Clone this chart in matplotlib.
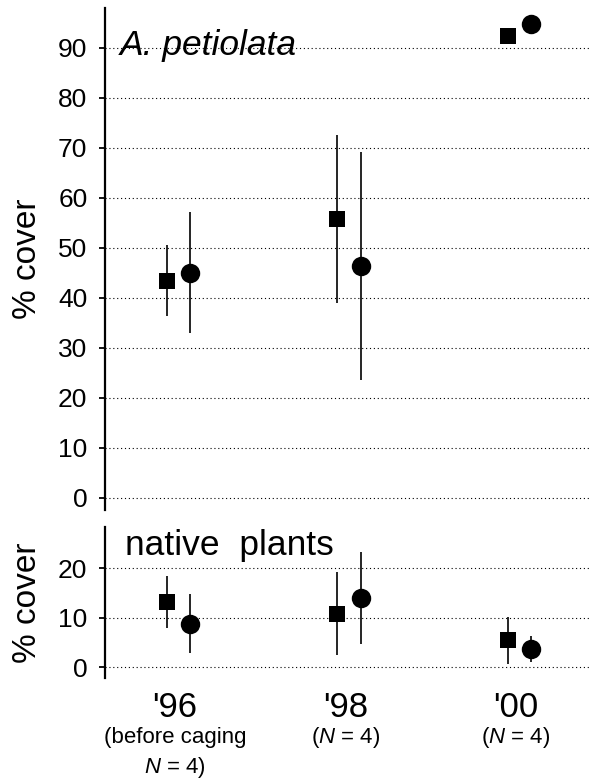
import numpy as np
import matplotlib
matplotlib.use("Agg")
import matplotlib.pyplot as plt

plt.rcParams['font.family'] = ['Liberation Sans', 'DejaVu Sans']
plt.rcParams['mathtext.fontset'] = 'custom'
plt.rcParams['mathtext.rm'] = 'Liberation Sans'
plt.rcParams['mathtext.it'] = 'Liberation Sans:italic'

# -----------------------------
# Data
# -----------------------------
years = ["'96", "'98", "'00"]
year_notes = ["(before caging\n", "($\\mathit{N}$ = 4)", "($\\mathit{N}$ = 4)"]

# A. petiolata cover
ap_sq_mean = [43.4, 55.8, 92.3]
ap_sq_se = [7.1, 16.8, 0.0]
ap_ci_mean = [45.0, 46.4, 94.8]
ap_ci_se = [12.1, 22.8, 0.0]

# native plants cover
np_sq_mean = [13.1, 10.8, 5.4]
np_sq_se = [5.3, 8.4, 4.7]
np_ci_mean = [8.8, 14.0, 3.6]
np_ci_se = [5.9, 9.3, 2.6]

x = np.arange(len(years))
off = 0.068

# -----------------------------
# Figure
# -----------------------------
fig = plt.figure(figsize=(5.89, 7.81), dpi=100)
ax1 = fig.add_axes([0.179, 0.347, 0.821, 0.643])
ax2 = fig.add_axes([0.179, 0.132, 0.821, 0.193])

def style(ax, ticks):
    for s in ['top', 'right', 'bottom']:
        ax.spines[s].set_visible(False)
    ax.spines['left'].set_linewidth(1.6)
    ax.set_yticks(ticks)
    ax.tick_params(axis='y', direction='out', length=4, width=1.3,
                   labelsize=19, pad=9)
    ax.tick_params(axis='x', length=0, labelbottom=False)
    for t in ticks:
        ax.axhline(t, color='black', lw=0.8, ls=(0, (1, 2.5)), zorder=0)
    ax.set_xlim(-0.428, 2.408)

def draw(ax, sq_m, sq_e, ci_m, ci_e):
    ax.errorbar(x - off, sq_m, yerr=sq_e, fmt='s', color='black', ms=11.8,
                mew=0, elinewidth=1.2, capsize=0, zorder=3)
    ax.errorbar(x + off, ci_m, yerr=ci_e, fmt='o', color='black', ms=14,
                mew=0, elinewidth=1.2, capsize=0, zorder=3)

style(ax1, np.arange(0, 100, 10))
draw(ax1, ap_sq_mean, ap_sq_se, ap_ci_mean, ap_ci_se)
ax1.set_ylim(-2.4, 98)
ax1.set_ylabel('% cover', fontsize=24, labelpad=11)
ax1.text(0.03, 0.907, 'A. petiolata', transform=ax1.transAxes,
         fontsize=25.5, style='italic', va='baseline', ha='left')

style(ax2, [0, 10, 20])
draw(ax2, np_sq_mean, np_sq_se, np_ci_mean, np_ci_se)
ax2.set_ylim(-2.2, 28.3)
ax2.set_ylabel('% cover', fontsize=24, labelpad=11)
ax2.text(0.04, 0.815, 'native  plants', transform=ax2.transAxes,
         fontsize=25.5, va='baseline', ha='left')

# year labels below the lower panel
tr = ax2.get_xaxis_transform()
for i, yr in enumerate(years):
    ax2.text(x[i] - 0.02, -0.258, yr, transform=tr, fontsize=25,
             ha='center', va='baseline')
ax2.text(x[0] - 0.02, -0.43, '(before caging', transform=tr, fontsize=16,
         ha='center', va='baseline')
ax2.text(x[0] - 0.02, -0.63, '$\\mathit{N}$ = 4)', transform=tr, fontsize=16,
         ha='center', va='baseline')
for i in [1, 2]:
    ax2.text(x[i] - 0.02, -0.43, year_notes[i], transform=tr, fontsize=16,
             ha='center', va='baseline')

fig.savefig('out.png', dpi=100)
